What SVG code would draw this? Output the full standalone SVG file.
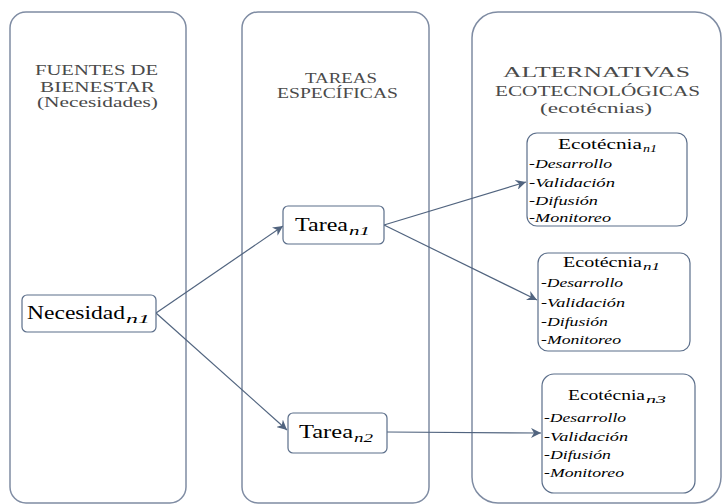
<svg xmlns="http://www.w3.org/2000/svg" width="728" height="504" viewBox="0 0 728 504">
<defs>
<style>
.col{fill:#fff;stroke:#7f8ca3;stroke-width:1.5}
.box{fill:#fff;stroke:#5b6e8a;stroke-width:1.2}
.hd{font-size:15px;fill:#4a4a4a}
.main{font-size:18px;fill:#000}
.sub{font-style:italic;font-size:12px;fill:#000}
.ttl{font-size:15px;fill:#000}
.tsub{font-style:italic;font-size:10px;fill:#000}
.it{font-style:italic;font-size:13px;fill:#000}
.con{fill:none;stroke:#51647f;stroke-width:1.2}
</style>
<marker id="ah" viewBox="0 0 10 10" refX="10" refY="5" markerWidth="10" markerHeight="10" markerUnits="userSpaceOnUse" orient="auto">
<path d="M0,0 L10,5 L0,10 L3,5 Z" fill="#51647f"/>
</marker>
</defs>
<rect width="728" height="504" fill="#fff"/>
<g font-family="Liberation Serif, DejaVu Serif, serif">
<g id="col1">
<rect class="col" x="10" y="12" width="176" height="491" rx="16"/>
<text class="hd" x="35" y="75" textLength="123" lengthAdjust="spacingAndGlyphs">FUENTES DE</text>
<text class="hd" x="40" y="92" textLength="115" lengthAdjust="spacingAndGlyphs">BIENESTAR</text>
<text class="hd" x="37" y="107" textLength="121" lengthAdjust="spacingAndGlyphs">(Necesidades)</text>
</g>
<g id="col2">
<rect class="col" x="242" y="12" width="187" height="491" rx="16"/>
<text class="hd" x="305" y="83" textLength="72" lengthAdjust="spacingAndGlyphs">TAREAS</text>
<text class="hd" x="277" y="98" textLength="121" lengthAdjust="spacingAndGlyphs">ESPECÍFICAS</text>
</g>
<g id="col3">
<rect class="col" x="472" y="12" width="249" height="491" rx="26"/>
<text class="hd" x="503" y="77" textLength="187" lengthAdjust="spacingAndGlyphs">ALTERNATIVAS</text>
<text class="hd" x="495" y="96" textLength="205" lengthAdjust="spacingAndGlyphs">ECOTECNOLÓGICAS</text>
<text class="hd" x="540" y="113" textLength="112" lengthAdjust="spacingAndGlyphs">(ecotécnias)</text>
</g>

<g id="connectors">
<line class="con" x1="156" y1="313" x2="283" y2="226" marker-end="url(#ah)"/>
<line class="con" x1="156" y1="313" x2="287" y2="430" marker-end="url(#ah)"/>
<line class="con" x1="384" y1="225" x2="526" y2="182" marker-end="url(#ah)"/>
<line class="con" x1="384" y1="225" x2="537" y2="300" marker-end="url(#ah)"/>
<line class="con" x1="387" y1="432" x2="541" y2="433" marker-end="url(#ah)"/>
</g>

<g id="necesidad">
<rect class="box" x="22" y="295" width="134" height="37" rx="5"/>
<text class="main" x="27" y="319" textLength="98" lengthAdjust="spacingAndGlyphs">Necesidad</text>
<text class="sub" x="126" y="323" textLength="24" lengthAdjust="spacingAndGlyphs">n1</text>
</g>

<g id="tarea1">
<rect class="box" x="283" y="206" width="101" height="38" rx="5"/>
<text class="main" x="295" y="231" textLength="53" lengthAdjust="spacingAndGlyphs">Tarea</text>
<text class="sub" x="349" y="235" textLength="21" lengthAdjust="spacingAndGlyphs">n1</text>
</g>

<g id="tarea2">
<rect class="box" x="288" y="413" width="99" height="40" rx="5"/>
<text class="main" x="299" y="438" textLength="54" lengthAdjust="spacingAndGlyphs">Tarea</text>
<text class="sub" x="354" y="442" textLength="19" lengthAdjust="spacingAndGlyphs">n2</text>
</g>

<g id="eco1">
<rect class="box" x="527" y="133" width="160" height="93" rx="10"/>
<text class="ttl" x="558" y="149" textLength="84" lengthAdjust="spacingAndGlyphs">Ecotécnia</text>
<text class="tsub" x="643" y="152" textLength="14" lengthAdjust="spacingAndGlyphs">n1</text>
<text class="it" x="529" y="168" textLength="83" lengthAdjust="spacingAndGlyphs">-Desarrollo</text>
<text class="it" x="529" y="187" textLength="86" lengthAdjust="spacingAndGlyphs">-Validación</text>
<text class="it" x="529" y="205" textLength="69" lengthAdjust="spacingAndGlyphs">-Difusión</text>
<text class="it" x="529" y="222" textLength="82" lengthAdjust="spacingAndGlyphs">-Monitoreo</text>
</g>

<g id="eco2">
<rect class="box" x="538" y="253" width="152" height="98" rx="10"/>
<text class="ttl" x="563" y="267" textLength="79" lengthAdjust="spacingAndGlyphs">Ecotécnia</text>
<text class="tsub" x="643" y="270" textLength="17" lengthAdjust="spacingAndGlyphs">n1</text>
<text class="it" x="541" y="287" textLength="82" lengthAdjust="spacingAndGlyphs">-Desarrollo</text>
<text class="it" x="541" y="307" textLength="84" lengthAdjust="spacingAndGlyphs">-Validación</text>
<text class="it" x="541" y="326" textLength="67" lengthAdjust="spacingAndGlyphs">-Difusión</text>
<text class="it" x="541" y="344" textLength="80" lengthAdjust="spacingAndGlyphs">-Monitoreo</text>
</g>

<g id="eco3">
<rect class="box" x="542" y="374" width="153" height="119" rx="12"/>
<text class="ttl" x="568" y="400" textLength="77" lengthAdjust="spacingAndGlyphs">Ecotécnia</text>
<text class="tsub" x="646" y="403" textLength="20" lengthAdjust="spacingAndGlyphs">n3</text>
<text class="it" x="544" y="422" textLength="82" lengthAdjust="spacingAndGlyphs">-Desarrollo</text>
<text class="it" x="544" y="441" textLength="84" lengthAdjust="spacingAndGlyphs">-Validación</text>
<text class="it" x="544" y="459" textLength="67" lengthAdjust="spacingAndGlyphs">-Difusión</text>
<text class="it" x="544" y="477" textLength="80" lengthAdjust="spacingAndGlyphs">-Monitoreo</text>
</g>
</g>
</svg>
